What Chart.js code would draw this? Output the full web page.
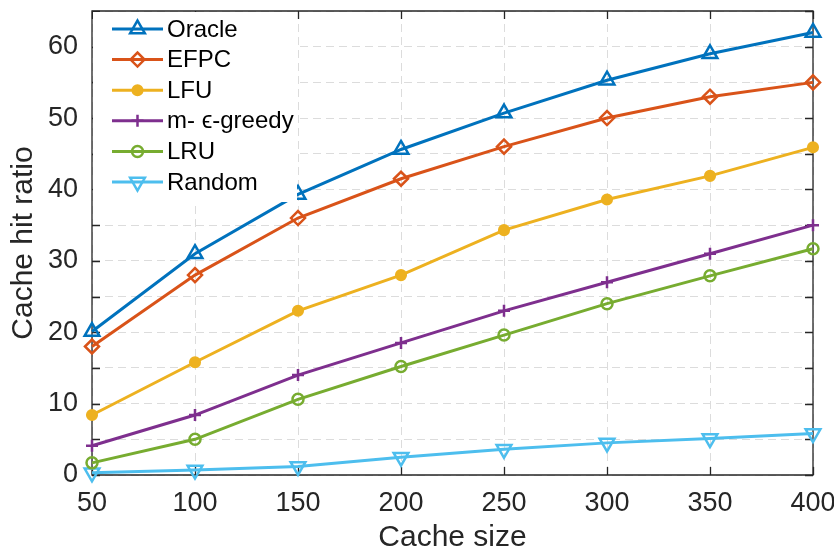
<!DOCTYPE html>
<html>
<head>
<meta charset="utf-8">
<script src="https://cdn.jsdelivr.net/npm/chart.js@4/dist/chart.umd.min.js"></script>
<style>
html,body{margin:0;padding:0;background:#fff;}
#wrap{width:834px;height:558px;position:relative;}
</style>
</head>
<body>
<div id="wrap"><canvas id="c" width="834" height="558"></canvas></div>
<script>
// ---- data ----
const cacheSizes = [50, 100, 150, 200, 250, 300, 350, 400];
const oracle  = [20.1, 31.0, 39.3, 45.6, 50.7, 55.3, 59.0, 62.0];
const efpc    = [18.0, 28.0, 36.0, 41.5, 46.0, 50.0, 53.0, 55.0];
const lfu     = [8.4, 15.8, 23.0, 28.0, 34.3, 38.6, 41.9, 45.9];
const greedy  = [4.1, 8.4, 14.0, 18.5, 23.0, 27.0, 31.0, 35.0];
const lru     = [1.7, 5.0, 10.6, 15.2, 19.6, 24.0, 27.9, 31.7];
const randomP = [0.3, 0.7, 1.2, 2.5, 3.6, 4.5, 5.1, 5.8];
const seriesNames = ['Oracle', 'EFPC', 'LFU', 'm- \u03f5-greedy', 'LRU', 'Random'];
const xTicks = [50, 100, 150, 200, 250, 300, 350, 400];
const yLabelTicks = [0, 10, 20, 30, 40, 50, 60];

const FONT = "'Liberation Sans', Arial, Helvetica, sans-serif";
const AXC = '#262626';

function pts(arr){ return cacheSizes.map((x,i)=>({x:x, y:arr[i]})); }

const styles = [
  {c:'#0072BD', ps:'triangle', r:8.5, rot:0, fill:false},
  {c:'#D95319', ps:'rectRot', r:7, rot:0, fill:false},
  {c:'#EDB120', ps:'circle', r:4.8, rot:0, fill:true},
  {c:'#7E2F8E', ps:'cross', r:6, rot:0, fill:false},
  {c:'#77AC30', ps:'circle', r:5.5, rot:0, fill:false},
  {c:'#4DBEEE', ps:'triangle', r:8.5, rot:180, fill:false}
];
const values = [oracle, efpc, lfu, greedy, lru, randomP];

const datasets = values.map((v,i)=>({
  label: seriesNames[i],
  data: pts(v),
  borderColor: styles[i].c,
  backgroundColor: styles[i].fill ? styles[i].c : 'rgba(0,0,0,0)',
  borderWidth: 3,
  pointStyle: styles[i].ps,
  pointRadius: styles[i].r,
  pointRotation: styles[i].rot,
  pointBorderWidth: 2.5,
  pointBorderColor: styles[i].c,
  pointBackgroundColor: styles[i].fill ? styles[i].c : 'rgba(0,0,0,0)',
  pointHoverRadius: styles[i].r,
  tension: 0,
  clip: false
}));

const boxPlugin = {
  id: 'box',
  beforeDatasetsDraw(chart){
    const {ctx, chartArea:a, scales} = chart;
    ctx.save();
    ctx.strokeStyle = AXC;
    ctx.lineWidth = 1.3;
    ctx.beginPath();
    ctx.rect(a.left, a.top, a.right - a.left, a.bottom - a.top);
    ctx.stroke();
    const tl = 8;
    ctx.beginPath();
    for (let v = 0; v <= 65; v += 5) {
      const y = Math.round(scales.y.getPixelForValue(v)) + 0.5;
      ctx.moveTo(a.left, y); ctx.lineTo(a.left + tl, y);
      ctx.moveTo(a.right, y); ctx.lineTo(a.right - tl, y);
    }
    xTicks.forEach(v => {
      const x = Math.round(scales.x.getPixelForValue(v)) + 0.5;
      ctx.moveTo(x, a.bottom); ctx.lineTo(x, a.bottom - tl);
      ctx.moveTo(x, a.top); ctx.lineTo(x, a.top + tl);
    });
    ctx.stroke();
    ctx.restore();
  },
  afterDraw(chart){
    const ctx = chart.ctx;
    const a = chart.chartArea;
    ctx.save();
    ctx.fillStyle = '#ffffff';
    ctx.fillRect(a.left + 1, a.top + 1, 204, 190);
    const y0 = 29, dy = 30.6;
    chart.data.datasets.forEach((ds, i) => {
      const y = y0 + i * dy;
      ctx.strokeStyle = ds.borderColor;
      ctx.lineWidth = 3;
      ctx.beginPath();
      ctx.moveTo(112, y); ctx.lineTo(163, y);
      ctx.stroke();
      ctx.lineWidth = ds.pointBorderWidth;
      ctx.fillStyle = ds.pointBackgroundColor;
      Chart.helpers.drawPoint(ctx, {pointStyle: ds.pointStyle, rotation: ds.pointRotation, radius: ds.pointRadius, borderWidth: ds.pointBorderWidth}, 137.5, y);
      ctx.fillStyle = '#000';
      ctx.font = '24px ' + FONT;
      ctx.textBaseline = 'middle';
      ctx.textAlign = 'left';
      ctx.fillText(ds.label, 167, y + 1);
    });
    ctx.restore();
  }
};

new Chart(document.getElementById('c'), {
  type: 'line',
  data: { datasets },
  plugins: [boxPlugin],
  options: {
    responsive: false,
    animation: false,
    events: [],
    layout: { padding: { left: 0, right: 21, top: 5, bottom: 0 } },
    plugins: { legend: { display: false }, tooltip: { enabled: false } },
    scales: {
      x: {
        type: 'linear', min: 50, max: 400,
        afterBuildTicks(s){ s.ticks = xTicks.map(v => ({value: v})); },
        afterFit(s){ s.height = 83; s.paddingLeft = 0; s.paddingRight = 0; },
        grid: { color: '#dcdcdc', lineWidth: 1, drawTicks: false },
        border: { display: false, dash: [8, 5] },
        ticks: { color: AXC, font: { family: FONT, size: 27 }, padding: 12, maxRotation: 0, autoSkip: false },
        title: { display: true, text: 'Cache size', color: AXC, font: { family: FONT, size: 30 }, padding: { top: 0, bottom: 2 } }
      },
      y: {
        type: 'linear', min: 0, max: 65,
        afterBuildTicks(s){ const t = []; for (let v = 0; v <= 65; v += 5) t.push({value: v}); s.ticks = t; },
        afterFit(s){ s.width = 92; s.paddingTop = 0; s.paddingBottom = 0; },
        grid: { color: '#dcdcdc', lineWidth: 1, drawTicks: false },
        border: { display: false, dash: [8, 5] },
        ticks: { color: AXC, font: { family: FONT, size: 27 }, padding: 14, autoSkip: false,
          callback: (v) => yLabelTicks.includes(v) ? String(v) : '' },
        title: { display: true, text: 'Cache hit ratio', color: AXC, font: { family: FONT, size: 30 }, padding: { top: 6, bottom: 0 } }
      }
    }
  }
});
</script>
</body>
</html>
